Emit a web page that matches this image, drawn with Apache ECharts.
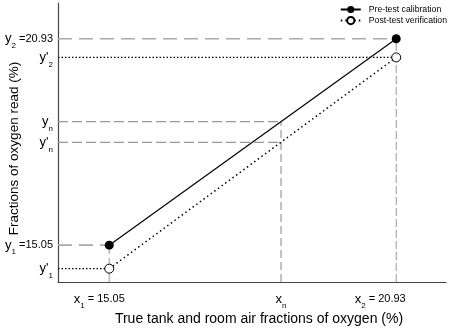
<!DOCTYPE html>
<html>
<head>
<meta charset="utf-8">
<script src="https://cdn.jsdelivr.net/npm/echarts@6/dist/echarts.min.js"></script>
<style>
  html, body { margin: 0; padding: 0; background: #fff; }
  #chart { width: 454px; height: 329px; }
</style>
</head>
<body>
<div id="chart"></div>
<script>
// calibration points (true fraction, read fraction)
const x1 = 15.05, x2 = 20.93, xn = 18.57;
const preTest = [[x1, 15.05], [x2, 20.93]];
const postTest = [[x1, 14.38], [x2, 20.40]];
const yn = 18.57, ynPrime = 17.98;

// tick labels on the axes
const yTicks = [20.93, 20.40, 18.57, 17.98, 15.05, 14.38];
const yTickLabels = ['{v|y}{s|2}{t| =20.93}', "{v|y'}{s|2}", '{v|y}{s|n}', "{v|y'}{s|n}", '{v|y}{s|1}{t| =15.05}', "{v|y'}{s|1}"];
const xTicks = [x1, xn, x2];
const xTickLabels = ['{v|x}{s|1}{t1| = 15.05}', '{v|x}{s|n}', '{v|x}{s|2}{t2| = 20.93}'];

const axMin = 14, axMax = 21.95;

const rich = {
  v: { fontSize: 13, lineHeight: 16, color: '#000', fontFamily: 'Liberation Sans' },
  s: { fontSize: 8, lineHeight: 8, verticalAlign: 'bottom', color: '#000', fontFamily: 'Liberation Sans', padding: [0, 0, -3, 0] },
  t: { fontSize: 11, lineHeight: 16, color: '#000', fontFamily: 'Liberation Sans' },
  t1: { fontSize: 11, lineHeight: 16, color: '#000', fontFamily: 'Liberation Sans', padding: [0, 20, 0, 0] },
  t2: { fontSize: 11, lineHeight: 16, color: '#000', fontFamily: 'Liberation Sans', padding: [0, 32, 0, 0] }
};

function guide(data, color, type, width) {
  return {
    type: 'line', data: data, showSymbol: false, silent: true, z: 1,
    lineStyle: { color: color, type: type, width: width }
  };
}

const myChart = echarts.init(document.getElementById('chart'));
myChart.setOption({
  animation: false,
  textStyle: { fontFamily: 'Liberation Sans' },
  grid: { left: 58, right: 8, top: 3, bottom: 47, containLabel: false, outerBoundsMode: 'none' },
  legend: {
    orient: 'vertical', right: 2, top: 0, itemGap: 2,
    itemWidth: 20, itemHeight: 9,
    textStyle: { fontSize: 8.7, color: '#000', padding: [0, 0, 0, 3] },
    data: ['Pre-test calibration', 'Post-test verification']
  },
  xAxis: {
    type: 'value', min: axMin, max: axMax,
    splitLine: { show: false },
    axisTick: { show: false },
    axisLine: { lineStyle: { color: '#444', width: 1.2 } },
    axisLabel: {
      customValues: xTicks, margin: 9,
      formatter: v => xTickLabels[xTicks.indexOf(v)], rich: rich
    },
    name: 'True tank and room air fractions of oxygen (%)',
    nameLocation: 'middle', nameGap: 30, nameMoveOverlap: false,
    nameTextStyle: { fontSize: 14, color: '#000', padding: [0, 0, 0, 14] }
  },
  yAxis: {
    type: 'value', min: axMin, max: axMax,
    splitLine: { show: false },
    axisTick: { show: false },
    axisLine: { lineStyle: { color: '#444', width: 1.2 } },
    axisLabel: {
      customValues: yTicks, margin: 5,
      formatter: v => yTickLabels[yTicks.indexOf(v)], rich: rich
    },
    name: 'Fractions of oxygen read (%)',
    nameLocation: 'middle', nameGap: 37, nameMoveOverlap: false,
    nameTextStyle: { fontSize: 13.5, color: '#000', padding: [0, 12, 0, 0] }
  },
  series: [
    guide([[axMin, 20.93], [x2, 20.93]], '#aaa', [14, 7], 1.6),
    guide([[axMin, 15.05], [x1, 15.05]], '#aaa', [14, 7], 1.6),
    guide([[x1, axMin], [x1, 15.05]], '#aaa', [10, 4], 1.2),
    guide([[x2, axMin], [x2, 20.93]], '#999', [8, 3], 1),
    guide([[axMin, yn], [xn, yn]], '#999', [10, 4], 1.2),
    guide([[axMin, ynPrime], [xn, ynPrime]], '#999', [10, 4], 1.2),
    guide([[xn, axMin], [xn, yn]], '#999', [8, 4], 1.2),
    guide([[axMin, 20.40], [x2, 20.40]], '#000', [1.5, 2], 1.2),
    guide([[axMin, 14.38], [x1, 14.38]], '#000', [1.5, 2], 1.2),
    {
      name: 'Pre-test calibration', type: 'line', data: preTest, z: 3,
      symbol: 'circle', symbolSize: 9,
      itemStyle: { color: '#000' },
      lineStyle: { color: '#000', width: 1.2 }
    },
    {
      name: 'Post-test verification', type: 'line', data: postTest, z: 3,
      symbol: 'circle', symbolSize: 9,
      itemStyle: { color: '#fff', borderColor: '#000', borderWidth: 1 },
      lineStyle: { color: '#000', width: 1.5, type: [1.5, 3] }
    }
  ]
});
</script>
</body>
</html>
